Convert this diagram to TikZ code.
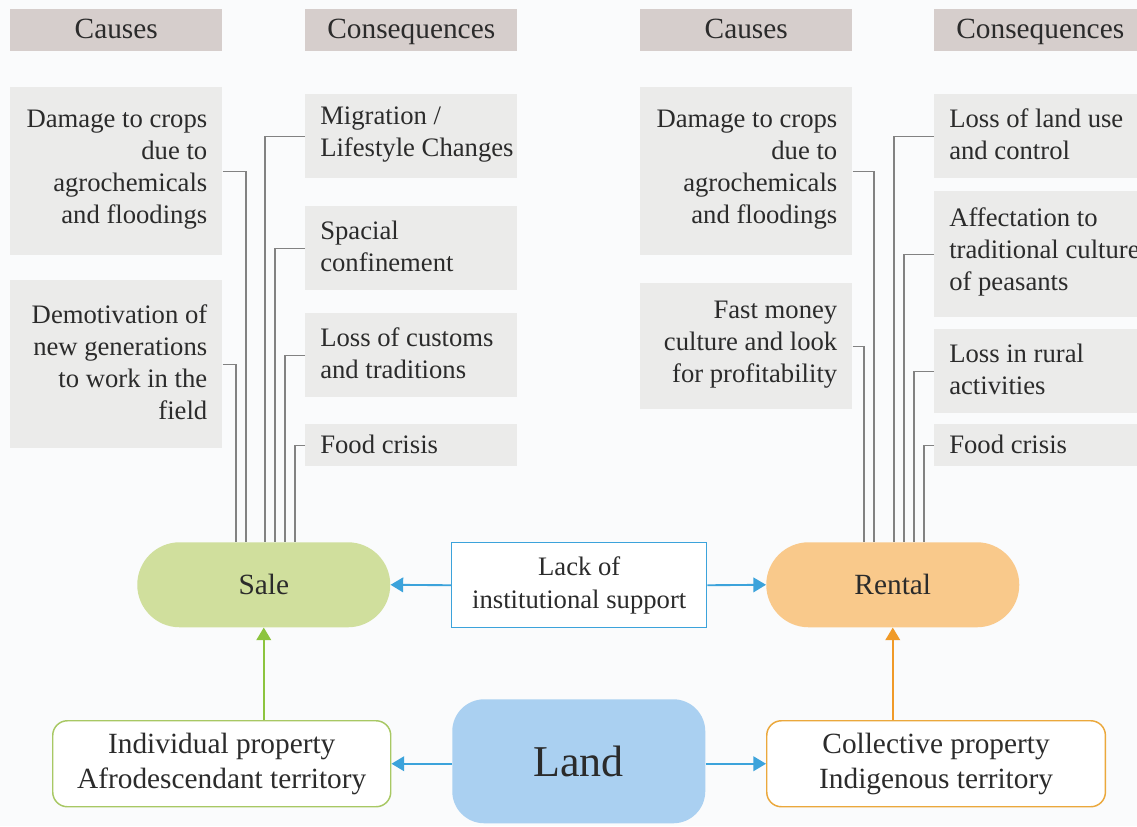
\documentclass[tikz,border=0pt]{standalone}
\usepackage{fontspec}
\setmainfont{Liberation Serif}
\usetikzlibrary{arrows.meta}
\definecolor{bgc}{HTML}{FAFBFC}
\definecolor{hdrc}{HTML}{D6CECC}
\definecolor{boxc}{HTML}{EBEBEA}
\definecolor{linec}{HTML}{828282}
\definecolor{txt}{HTML}{2B2B2B}
\definecolor{salec}{HTML}{D0DF9D}
\definecolor{rentc}{HTML}{F9C98B}
\definecolor{landc}{HTML}{AAD0F1}
\definecolor{bluec}{HTML}{3CA3DB}
\definecolor{greenb}{HTML}{A8C864}
\definecolor{greena}{HTML}{8CC43E}
\definecolor{orangeb}{HTML}{EBA83C}
\definecolor{orangea}{HTML}{F09A28}
\tikzset{
  nw/.style={anchor=north west, inner sep=0pt},
  hdr/.style={nw, fill=hdrc, minimum width=159pt, minimum height=31.5pt, text height=17pt, text depth=4pt, text=txt, font=\fontsize{22}{26}\selectfont},
  gbox/.style={nw, fill=boxc, minimum width=159pt},
  rtext/.style={anchor=east, align=right, inner sep=0pt, text=txt, font=\fontsize{20}{24}\selectfont},
  ltext/.style={anchor=west, align=left, inner sep=0pt, text=txt, font=\fontsize{20}{24}\selectfont},
  conn/.style={draw=linec, line width=0.9pt},
  pill/.style={nw, minimum width=189.75pt, minimum height=63.75pt, rounded corners=31.8pt, text=txt, font=\fontsize{22}{26}\selectfont},
  lackbox/.style={nw, draw=bluec, line width=1.1pt, fill=white, minimum width=191.25pt, minimum height=63.75pt, align=center, text=txt, font=\fontsize{20}{24.75}\selectfont},
  propbox/.style={nw, line width=1.1pt, fill=white, minimum width=253.5pt, minimum height=64.5pt, rounded corners=11pt, align=center, text=txt, font=\fontsize{22}{26.25}\selectfont},
  tip/.style={-{Triangle[length=9.5pt,width=11pt]}},
  barrow/.style={draw=bluec, line width=1.4pt, tip},
}
\begin{document}
\begin{tikzpicture}[x=0.75pt,y=-0.75pt]
\useasboundingbox (0,0) rectangle (1137,826);
\clip (0,0) rectangle (1137,826);
\fill[bgc] (0,0) rectangle (1137,826);

% headers
\node[hdr] (h1) at (10,9) {Causes};
\node[hdr] (h2) at (305,9) {Consequences};
\node[hdr] (h3) at (640,9) {Causes};
\node[hdr] (h4) at (934,9) {Consequences};

% left causes
\node[gbox, minimum height=126pt] (lc1) at (10,87) {};
\node[rtext] (lc1t) at ([xshift=-11.25pt,yshift=1.5pt]lc1.east) {Damage to crops\\due to\\agrochemicals\\and floodings};
\node[gbox, minimum height=126pt] (lc2) at (10,280) {};
\node[rtext] (lc2t) at ([xshift=-11.25pt,yshift=1.5pt]lc2.east) {Demotivation of\\new generations\\to work in the\\field};

% left consequences
\node[gbox, minimum height=63pt] (lq1) at (305,94) {};
\node[ltext] (lq1t) at ([xshift=11.25pt,yshift=1.5pt]lq1.west) {Migration /\\Lifestyle Changes};
\node[gbox, minimum height=63pt] (lq2) at (305,206) {};
\node[ltext] (lq2t) at ([xshift=11.25pt,yshift=1.5pt]lq2.west) {Spacial\\confinement};
\node[gbox, minimum height=63pt] (lq3) at (305,313) {};
\node[ltext] (lq3t) at ([xshift=11.25pt,yshift=1.5pt]lq3.west) {Loss of customs\\and traditions};
\node[gbox, minimum height=31.5pt] (lq4) at (305,424) {};
\node[ltext] (lq4t) at ([xshift=11.25pt,yshift=1pt]lq4.west) {Food crisis};

% right causes
\node[gbox, minimum height=126pt] (rc1) at (640,87) {};
\node[rtext] (rc1t) at ([xshift=-11.25pt,yshift=1.5pt]rc1.east) {Damage to crops\\due to\\agrochemicals\\and floodings};
\node[gbox, minimum height=94.5pt] (rc2) at (640,283) {};
\node[rtext] (rc2t) at ([xshift=-11.25pt,yshift=1.5pt]rc2.east) {Fast money\\culture and look\\for profitability};

% right consequences
\node[gbox, minimum height=63pt] (rq1) at (934,94) {};
\node[ltext] (rq1t) at ([xshift=11.25pt,yshift=1.5pt]rq1.west) {Loss of land use\\and control};
\node[gbox, minimum height=94.5pt] (rq2) at (934,191) {};
\node[ltext] (rq2t) at ([xshift=11.25pt,yshift=1.5pt]rq2.west) {Affectation to\\traditional culture\\of peasants};
\node[gbox, minimum height=63pt] (rq3) at (934,329) {};
\node[ltext] (rq3t) at ([xshift=11.25pt,yshift=1.5pt]rq3.west) {Loss in rural\\activities};
\node[gbox, minimum height=31.5pt] (rq4) at (934,424) {};
\node[ltext] (rq4t) at ([xshift=11.25pt,yshift=1pt]rq4.west) {Food crisis};

% central nodes
\node[pill, fill=salec] (sale) at (137,542) {Sale};
\node[pill, fill=rentc] (rent) at (766,542) {Rental};
\node[lackbox] (lack) at (451,542) {Lack of\\institutional support};
\node[propbox, draw=greenb] (ind) at (52,720) {Individual property\\Afrodescendant territory};
\node[propbox, draw=orangeb, minimum width=254pt] (col) at (766,720) {Collective property\\Indigenous territory};
\node[nw, fill=landc, minimum width=189.75pt, minimum height=93pt, rounded corners=24pt, text=txt, font=\fontsize{33}{38}\selectfont] (land) at (452,699) {Land};

% column coordinates
\coordinate (xa) at (236,0);
\coordinate (xb) at (246,0);
\coordinate (xc) at (265,0);
\coordinate (xd) at (275,0);
\coordinate (xe) at (285,0);
\coordinate (xf) at (295,0);
\coordinate (ya) at (864,0);
\coordinate (yb) at (874,0);
\coordinate (yc) at (894,0);
\coordinate (yd) at (904,0);
\coordinate (ye) at (914,0);
\coordinate (yf) at (924,0);

% connectors left
\draw[conn] (lc1.east) -| (xb |- sale.north);
\draw[conn] (lc2.east) -| (xa |- sale.north);
\draw[conn] (lq1.west) -| (xc |- sale.north);
\draw[conn] (lq2.west) -| (xd |- sale.north);
\draw[conn] (lq3.west) -| (xe |- sale.north);
\draw[conn] (lq4.west) -| (xf |- sale.north);
% connectors right
\draw[conn] (rc1.east) -| (yb |- rent.north);
\draw[conn] (rc2.east) -| (ya |- rent.north);
\draw[conn] (rq1.west) -| (yc |- rent.north);
\draw[conn] (rq2.west) -| (yd |- rent.north);
\draw[conn] (rq3.west) -| (ye |- rent.north);
\draw[conn] (rq4.west) -| (yf |- rent.north);

% arrows
\draw[barrow] (lack.west) -- (sale.east);
\draw[barrow] (lack.east) -- (rent.west);
\draw[barrow] (ind.east -| land.west) -- (ind.east);
\draw[barrow] (col.west -| land.east) -- (col.west);
\draw[draw=greena, line width=1.4pt, tip] (ind.north -| sale.south) -- (sale.south);
\draw[draw=orangea, line width=1.4pt, tip] (col.north -| rent.south) -- (rent.south);
\end{tikzpicture}
\end{document}
